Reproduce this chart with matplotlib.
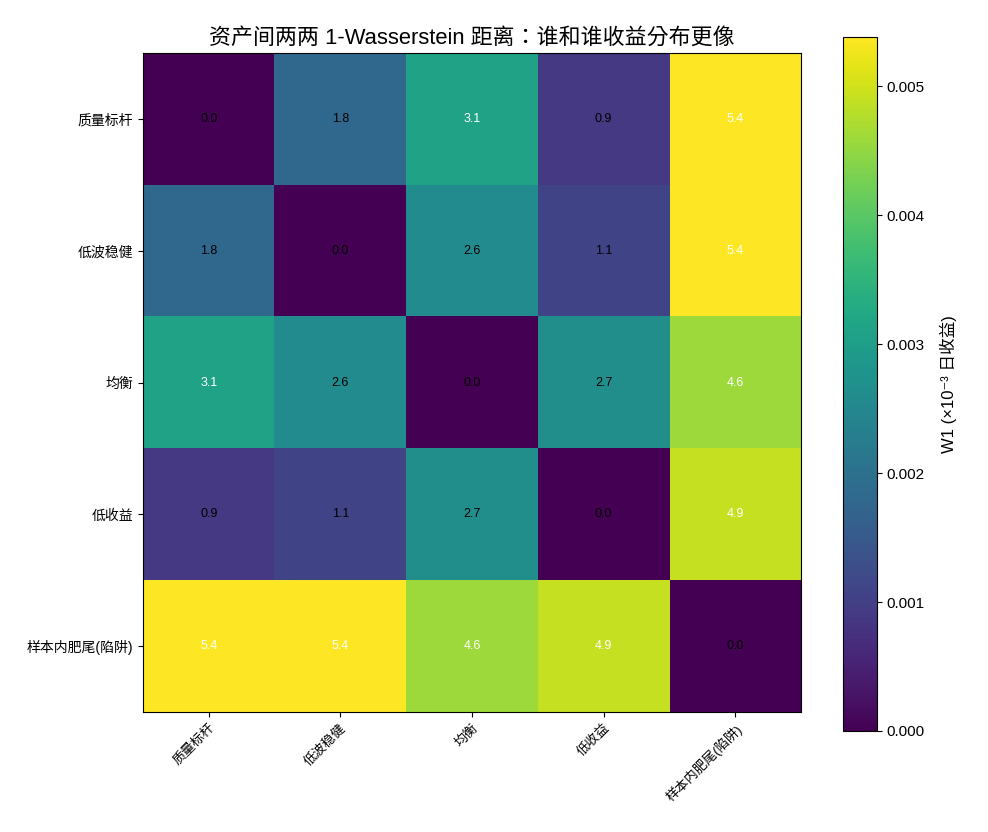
import matplotlib
matplotlib.use("Agg")
import matplotlib.pyplot as plt
import numpy as np

plt.rcParams['font.family'] = ['Liberation Sans', 'Noto Sans CJK SC', 'DejaVu Sans']
plt.rcParams['axes.unicode_minus'] = False

assets = ["质量标杆", "低波稳健", "均衡", "低收益", "样本内肥尾(陷阱)"]
w1_row0 = [0.0, 1.80, 3.10, 0.90, 5.38]
w1_row1 = [1.80, 0.0, 2.60, 1.10, 5.36]
w1_row2 = [3.10, 2.60, 0.0, 2.66, 4.60]
w1_row3 = [0.90, 1.10, 2.66, 0.0, 4.90]
w1_row4 = [5.38, 5.36, 4.60, 4.90, 0.0]

W = np.array([w1_row0, w1_row1, w1_row2, w1_row3, w1_row4]) * 1e-3

fig = plt.figure(figsize=(9.88, 8.32), dpi=100)
ax = fig.add_axes([0.1447, 0.1442, 0.666, 0.792])
cax = fig.add_axes([0.853, 0.1214, 0.0344, 0.834])

im = ax.imshow(W, cmap='viridis', aspect='auto', vmin=0, vmax=W.max())
ax.set_xticks(range(len(assets)))
ax.set_yticks(range(len(assets)))
ax.set_xticklabels(assets, rotation=45, ha='right', rotation_mode='anchor', fontsize=9.5)
ax.set_yticklabels(assets, fontsize=10)
ax.set_title("资产间两两 1-Wasserstein 距离：谁和谁收益分布更像", fontsize=15.8,
             family=['Liberation Sans', 'Noto Sans CJK TC', 'DejaVu Sans'], pad=7)

vmax = W.max()
for i in range(W.shape[0]):
    for j in range(W.shape[1]):
        v = W[i, j]
        ax.text(j, i, f"{v*1e3:.1f}", ha='center', va='center', fontsize=9,
                color='white' if v > 0.5 * vmax else 'black')

cb = fig.colorbar(im, cax=cax)
cb.set_label("W1 (×10⁻³ 日收益)", fontsize=12, labelpad=11)
cb.ax.tick_params(labelsize=11)

fig.savefig("out.png", dpi=100)
